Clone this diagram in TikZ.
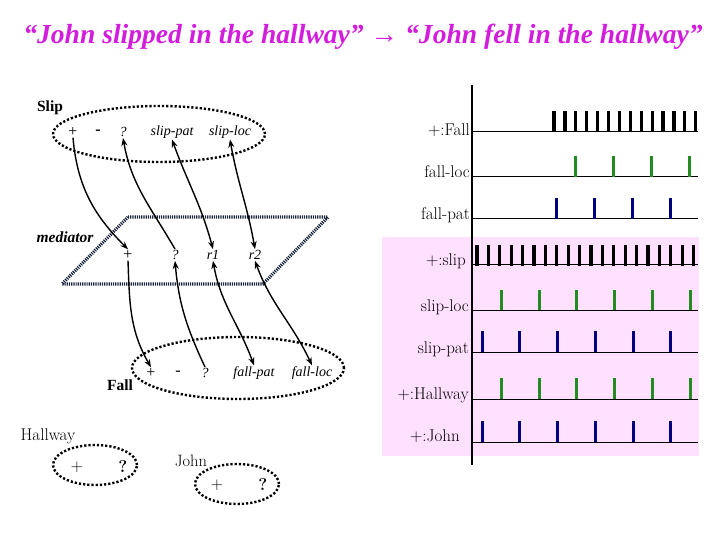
\documentclass[tikz,border=0pt]{standalone}
\usepackage{fontspec}
\newfontfamily\timesfont{Liberation Serif}
\usetikzlibrary{arrows.meta}

\definecolor{titlemag}{RGB}{210,30,220}
\definecolor{bgpink}{RGB}{255,224,255}
\definecolor{tickgreen}{RGB}{34,139,34}
\definecolor{tickblue}{RGB}{0,0,128}
\definecolor{medline}{RGB}{25,35,60}

\tikzset{
  dotframe/.style={line width=2.4pt, dash pattern=on 2.2pt off 2pt},
  medframe/.style={line width=3.2pt, medline, dash pattern=on 1.2pt off 1pt},
  link/.style={line width=1.4pt, -{Stealth[length=8pt,width=6pt]}},
  twolink/.style={line width=1.4pt, {Stealth[length=8pt,width=6pt]}-{Stealth[length=8pt,width=6pt]}},
  slot/.style={font=\timesfont\fontsize{14}{14}\selectfont\itshape, inner sep=1pt},
  sign/.style={font=\timesfont\fontsize{16}{16}\selectfont, inner sep=1pt},
  framename/.style={font=\timesfont\fontsize{15.5}{15.5}\selectfont\bfseries, inner sep=1pt},
  cmname/.style={font=\fontsize{17}{17}\selectfont, inner sep=1pt},
  rowlab/.style={font=\fontsize{17}{17}\selectfont, inner sep=0pt, anchor=base east},
  rowline/.style={line width=1pt},
  tickk/.style={line width=3.2pt},
  tickg/.style={line width=3pt, tickgreen},
  tickb/.style={line width=3pt, tickblue}
}

\begin{document}
\begin{tikzpicture}[x=1pt,y=1pt]
\useasboundingbox (0,0) rectangle (720,-540);

\node (title) at (363,-44) [anchor=base, titlemag, font=\timesfont\fontsize{27.6}{27.6}\selectfont\bfseries\itshape] {“John slipped in the hallway” → “John fell in the hallway”};

% right panel
\fill[bgpink] (382,-237) rectangle (699,-456);
\draw[line width=1.8pt] (472,-85) -- (472,-465);

\node (lfall) at (470,-136) [rowlab] {+:Fall};
\node (lfloc) at (470,-178) [rowlab] {fall-loc};
\node (lfpat) at (470,-219) [rowlab] {fall-pat};
\node (lslip) at (466,-265) [rowlab] {+:slip};
\node (lsloc) at (469,-311) [rowlab] {slip-loc};
\node (lspat) at (469,-353) [rowlab] {slip-pat};
\node (lhall) at (469,-399) [rowlab] {+:Hallway};
\node (ljohn) at (460,-441) [rowlab] {+:John};

\foreach \y in {132,177,219,264,310,352,399,442} {
    \draw[rowline] (472,-\y) -- (698,-\y);
}

\foreach \i in {0,...,13} {
    \draw[tickk] ({554+\i*10.9},-132) -- ++(0,21);
}
\foreach \x in {575,613,651,689} {
    \draw[tickg] (\x,-177) -- ++(0,21);
}
\foreach \x in {556,594,632,670} {
    \draw[tickb] (\x,-219) -- ++(0,21);
}
\foreach \i in {0,...,19} {
    \draw[tickk] ({477+\i*11.4},-266) -- ++(0,21);
}
\foreach \x in {501,539,576,614,652,690} {
    \draw[tickg] (\x,-310) -- ++(0,20);
    \draw[tickg] (\x,-399) -- ++(0,21);
}
\foreach \x in {482,519,557,595,633,670} {
    \draw[tickb] (\x,-352) -- ++(0,21);
    \draw[tickb] (\x,-442) -- ++(0,21);
}

% Slip frame
\draw[dotframe] (159,-134) ellipse [x radius=106, y radius=28];
\node (slipname) at (50,-108) [framename] {Slip};
\node (s1) at (73,-132) [sign] {+};
\node (s2) at (98,-132) [sign, font=\timesfont\fontsize{16}{16}\selectfont\bfseries] {-};
\node (s3) at (123,-132) [slot] {?};
\node (s4) at (172,-132) [slot] {slip-pat};
\node (s5) at (230,-132) [slot] {slip-loc};

% mediator
\draw[medframe] (128,-217) -- (328,-217) -- (263,-284) -- (62,-284) -- cycle;
\node (medname) at (65,-237) [framename, font=\timesfont\fontsize{15.5}{15.5}\selectfont\bfseries\itshape] {mediator};
\node (m1) at (128,-255) [sign] {+};
\node (m2) at (175,-255) [slot] {?};
\node (m3) at (213,-255) [slot] {r1};
\node (m4) at (255,-255) [slot] {r2};

% Fall frame
\draw[dotframe] (238,-368) ellipse [x radius=106, y radius=31];
\node (fallname) at (120,-385) [framename] {Fall};
\node (f1) at (151,-373) [sign] {+};
\node (f2) at (178,-373) [sign] {-};
\node (f3) at (205,-373) [slot] {?};
\node (f4) at (254,-373) [slot] {fall-pat};
\node (f5) at (312,-373) [slot] {fall-loc};

% Hallway and John
\node (hallname) at (48,-436) [cmname] {Hallway};
\draw[dotframe] (95,-465) ellipse [x radius=42, y radius=20];
\node (h1) at (77,-467) [cmname, font=\fontsize{17}{17}\selectfont] {+};
\node (h2) at (123,-467) [cmname, font=\fontsize{17}{17}\selectfont\bfseries] {?};
\node (johnname) at (191,-461) [cmname, font=\fontsize{16.5}{16.5}\selectfont] {John};
\draw[dotframe] (237,-484) ellipse [x radius=42, y radius=20];
\node (j1) at (217,-485) [cmname, font=\fontsize{17}{17}\selectfont] {+};
\node (j2) at (263,-485) [cmname, font=\fontsize{17}{17}\selectfont\bfseries] {?};

% links
\draw[link] (s1.south) to[out=-85,in=135] (m1.north);
\draw[link] (m2.north) to[out=120,in=-80] (s3.south);
\draw[twolink] (s4.south) to[out=-70,in=105] (m3.north);
\draw[twolink] (s5.south) to[out=-80,in=100] (m4.north);
\draw[link] (m1.south) to[out=-88,in=120] (f1.north);
\draw[link] (f3.north) to[out=115,in=-85] (m2.south);
\draw[twolink] (m3.south) to[out=-80,in=110] (f4.north);
\draw[twolink] (m4.south) to[out=-70,in=115] (f5.north);
\end{tikzpicture}
\end{document}
